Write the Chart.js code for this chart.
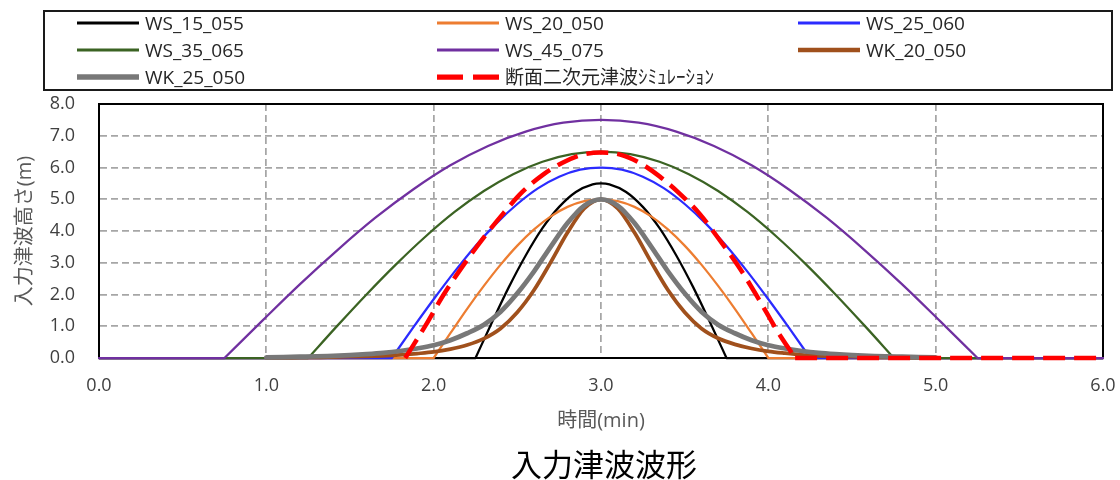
<!DOCTYPE html>
<html><head><meta charset="utf-8">
<script src="https://cdn.jsdelivr.net/npm/chart.js@4.4.1/dist/chart.umd.min.js"></script>
<style>
html,body{margin:0;padding:0;background:#fff;}
#wrap{position:relative;width:1120px;height:480px;overflow:hidden;font-family:"Open Sans","Noto Sans CJK JP",sans-serif;}
#c{position:absolute;left:0;top:0;}
#legendBox{position:absolute;left:43px;top:10px;width:1066px;height:77px;border:2px solid #1a1a1a;}
.item{position:absolute;height:22px;display:flex;align-items:center;white-space:nowrap;}
.item svg{display:block;}
.item span{font-size:19px;color:#262626;margin-left:6px;line-height:22px;}
#title{position:absolute;left:604px;top:444px;transform:translateX(-50%);font-size:31px;line-height:38px;color:#000;font-family:"Noto Sans CJK JP",sans-serif;white-space:nowrap;}
</style></head>
<body>
<div id="wrap">
  <canvas id="c" width="1120" height="480"></canvas>
  <div id="legendBox"></div>
  <div id="title"></div>
</div>
<script>
// ---- data ----
const seriesNames = ['WS_15_055','WS_20_050','WS_25_060','WS_35_065','WS_45_075','WK_20_050','WK_25_050','断面二次元津波ｼﾐｭﾚｰｼｮﾝ'];
const xTitle = '時間(min)';
const yTitle = '入力津波高さ(m)';
const chartTitle = '入力津波波形';
const xTicks = [0,1,2,3,4,5,6];
const yTicks = [0,1,2,3,4,5,6,7,8];

const ws15055_t = [0, 2.25, 2.35, 2.45, 2.55, 2.65, 2.75, 2.85, 2.95, 3.0, 3.05, 3.15, 3.25, 3.35, 3.45, 3.55, 3.65, 3.75, 6.0];
const ws15055_h = [0, 0, 1.14, 2.24, 3.23, 4.09, 4.76, 5.23, 5.47, 5.50, 5.47, 5.23, 4.76, 4.09, 3.23, 2.24, 1.14, 0, 0];

const ws20050_t = [0, 2.0, 2.1, 2.2, 2.3, 2.4, 2.5, 2.6, 2.7, 2.8, 2.9, 3.0, 3.1, 3.2, 3.3, 3.4, 3.5, 3.6, 3.7, 3.8, 3.9, 4.0, 6.0];
const ws20050_h = [0, 0, 0.78, 1.55, 2.27, 2.94, 3.54, 4.05, 4.46, 4.76, 4.94, 5.00, 4.94, 4.76, 4.46, 4.05, 3.54, 2.94, 2.27, 1.55, 0.78, 0, 0];

const ws25060_t = [0, 1.75, 1.875, 2.0, 2.125, 2.25, 2.375, 2.5, 2.625, 2.75, 2.875, 3.0, 3.125, 3.25, 3.375, 3.5, 3.625, 3.75, 3.875, 4.0, 4.125, 4.25, 6.0];
const ws25060_h = [0, 0, 0.94, 1.85, 2.72, 3.53, 4.24, 4.85, 5.35, 5.71, 5.93, 6.00, 5.93, 5.71, 5.35, 4.85, 4.24, 3.53, 2.72, 1.85, 0.94, 0, 0];

const ws35065_t = [0, 1.25, 1.425, 1.6, 1.775, 1.95, 2.125, 2.3, 2.475, 2.65, 2.825, 3.0, 3.175, 3.35, 3.525, 3.7, 3.875, 4.05, 4.225, 4.4, 4.575, 4.75, 6.0];
const ws35065_h = [0, 0, 1.02, 2.01, 2.95, 3.82, 4.60, 5.26, 5.79, 6.18, 6.42, 6.50, 6.42, 6.18, 5.79, 5.26, 4.60, 3.82, 2.95, 2.01, 1.02, 0, 0];

const ws45075_t = [0, 0.75, 0.975, 1.2, 1.425, 1.65, 1.875, 2.1, 2.325, 2.55, 2.775, 3.0, 3.225, 3.45, 3.675, 3.9, 4.125, 4.35, 4.575, 4.8, 5.025, 5.25, 6.0];
const ws45075_h = [0, 0, 1.17, 2.32, 3.40, 4.41, 5.30, 6.07, 6.68, 7.13, 7.41, 7.50, 7.41, 7.13, 6.68, 6.07, 5.30, 4.41, 3.40, 2.32, 1.17, 0, 0];

const wk_t = [1.0, 1.1, 1.2, 1.3, 1.4, 1.5, 1.6, 1.7, 1.8, 1.9, 2.0, 2.1, 2.2, 2.3, 2.4, 2.5, 2.6, 2.7, 2.8, 2.9, 3.0,
              3.1, 3.2, 3.3, 3.4, 3.5, 3.6, 3.7, 3.8, 3.9, 4.0, 4.1, 4.2, 4.3, 4.4, 4.5, 4.6, 4.7, 4.8, 4.9, 5.0];
const wk20050_h = [0.01, 0.01, 0.02, 0.02, 0.03, 0.04, 0.05, 0.07, 0.10, 0.14, 0.19, 0.28, 0.41, 0.61, 0.93, 1.44, 2.14, 3.02, 3.95, 4.71, 5.00,
                   4.71, 3.95, 3.02, 2.14, 1.44, 0.93, 0.62, 0.43, 0.30, 0.21, 0.15, 0.10, 0.07, 0.05, 0.04, 0.03, 0.02, 0.02, 0.01, 0.01];
const wk25050_h = [0.02, 0.03, 0.04, 0.05, 0.07, 0.09, 0.12, 0.16, 0.22, 0.30, 0.40, 0.56, 0.78, 1.05, 1.46, 2.04, 2.73, 3.51, 4.25, 4.80, 5.00,
                   4.80, 4.25, 3.51, 2.73, 2.04, 1.46, 1.05, 0.78, 0.56, 0.40, 0.30, 0.22, 0.16, 0.12, 0.09, 0.07, 0.05, 0.04, 0.03, 0.02];

const sim_t = [1.83, 1.95, 2.06, 2.18, 2.30, 2.42, 2.53, 2.65, 2.77, 2.88, 3.00, 3.12, 3.23, 3.35, 3.47, 3.59, 3.70, 3.82, 3.94, 4.05, 4.16, 6.0];
const sim_h = [0, 1.01, 2.00, 2.94, 3.80, 4.58, 5.23, 5.76, 6.15, 6.39, 6.47, 6.40, 6.15, 5.72, 5.18, 4.54, 3.78, 2.90, 1.88, 0.88, 0, 0];

// ---- styles ----
const FONT = '"Open Sans", "Noto Sans CJK JP", sans-serif';
const styles = [
  {color:'#000000', width:2.25, dash:[]},
  {color:'#ed7d31', width:2.25, dash:[]},
  {color:'#2b2bff', width:2.25, dash:[]},
  {color:'#3b6323', width:2.25, dash:[]},
  {color:'#7030a0', width:2.25, dash:[]},
  {color:'#a0501c', width:3.75, dash:[]},
  {color:'#787878', width:4.75, dash:[]},
  {color:'#ff0000', width:4.5, dash:[22,9]}
];
const seriesT = [ws15055_t, ws20050_t, ws25060_t, ws35065_t, ws45075_t, wk_t, wk_t, sim_t];
const seriesH = [ws15055_h, ws20050_h, ws25060_h, ws35065_h, ws45075_h, wk20050_h, wk25050_h, sim_h];

// Build points; break the smooth spline where a flat zero run meets the pulse,
// so the pulse keeps its sharp foot (a gap at the same coordinate).
function buildPoints(ts, hs) {
  const pts = [];
  for (let k = 0; k < ts.length; k++) {
    pts.push({x: ts[k], y: hs[k]});
    const prevZero = k > 0 && hs[k - 1] === 0;
    const nextZero = k < ts.length - 1 && hs[k + 1] === 0;
    const here = hs[k] === 0;
    if (here && ((prevZero && k < ts.length - 1 && hs[k + 1] > 0) || (nextZero && k > 0 && hs[k - 1] > 0))) {
      pts.push({x: ts[k], y: null});
      pts.push({x: ts[k], y: hs[k]});
    }
  }
  return pts;
}

const datasets = seriesNames.map((name, i) => ({
  label: name,
  data: buildPoints(seriesT[i], seriesH[i]),
  showLine: true,
  spanGaps: false,
  borderColor: styles[i].color,
  backgroundColor: styles[i].color,
  borderWidth: styles[i].width,
  borderDash: styles[i].dash,
  pointRadius: 0,
  pointHoverRadius: 0,
  fill: false,
  tension: 0.4,
  cubicInterpolationMode: 'monotone',
  borderCapStyle: styles[i].dash.length ? 'butt' : 'round',
  borderJoinStyle: 'round',
  clip: 6,
  order: seriesNames.length - i
}));

const framePlugin = {
  id: 'frame',
  beforeDatasetsDraw(chart) {
    const {ctx, chartArea: a} = chart;
    ctx.save();
    ctx.strokeStyle = '#000';
    ctx.lineWidth = 2;
    ctx.strokeRect(a.left, a.top, a.right - a.left, a.bottom - a.top);
    ctx.restore();
  }
};

const gridOpts = {color: '#a6a6a6', lineWidth: 1.75, drawTicks: false};

new Chart(document.getElementById('c'), {
  type: 'scatter',
  data: {datasets},
  options: {
    responsive: false,
    animation: false,
    events: [],
    layout: {padding: {top: 104, right: 17, bottom: 42, left: 0}, autoPadding: false},
    plugins: {legend: {display: false}, tooltip: {enabled: false}, title: {display: false}},
    scales: {
      x: {
        type: 'linear', min: xTicks[0], max: xTicks[xTicks.length - 1],
        afterBuildTicks: s => { s.ticks = xTicks.map(v => ({value: v})); },
        afterFit: s => { s.height = 80; s.paddingLeft = 0; s.paddingRight = 0; },
        ticks: {callback: v => Number(v).toFixed(1), color: '#404040', font: {size: 18, family: FONT}, padding: 17, maxRotation: 0, autoSkip: false},
        grid: gridOpts,
        border: {color: '#000', width: 2, dash: [7, 4]},
        title: {display: true, text: xTitle, color: '#595959', font: {size: 20, family: FONT}, padding: {top: 0, bottom: 5}}
      },
      y: {
        type: 'linear', min: yTicks[0], max: yTicks[yTicks.length - 1],
        afterBuildTicks: s => { s.ticks = yTicks.map(v => ({value: v})); },
        afterFit: s => { s.width = 99; s.paddingTop = 0; s.paddingBottom = 0; },
        ticks: {callback: v => Number(v).toFixed(1), color: '#404040', font: {size: 18, family: FONT}, padding: 24, autoSkip: false},
        grid: gridOpts,
        border: {color: '#000', width: 2, dash: [7, 4]},
        title: {display: true, text: yTitle, color: '#595959', font: {size: 20, family: FONT}, padding: {top: 13, bottom: 0}}
      }
    }
  },
  plugins: [framePlugin]
});

// ---- HTML legend ----
const legendCols = [77, 437, 798];
const legendRows = [23, 50, 77];
const wrap = document.getElementById('wrap');
seriesNames.forEach((name, i) => {
  const col = i % 3, row = Math.floor(i / 3);
  const st = styles[i];
  const div = document.createElement('div');
  div.className = 'item';
  div.style.left = legendCols[col] + 'px';
  div.style.top = (legendRows[row] - 11) + 'px';
  const dashAttr = st.dash.length ? ' stroke-dasharray="26 10"' : '';
  div.innerHTML = '<svg width="62" height="10"><line x1="0" y1="5" x2="62" y2="5" stroke="' + st.color +
    '" stroke-width="' + (st.width + 0.75) + '"' + dashAttr + '/></svg><span></span>';
  div.querySelector('span').textContent = name;
  wrap.appendChild(div);
});
document.getElementById('title').textContent = chartTitle;
</script>
</body></html>
